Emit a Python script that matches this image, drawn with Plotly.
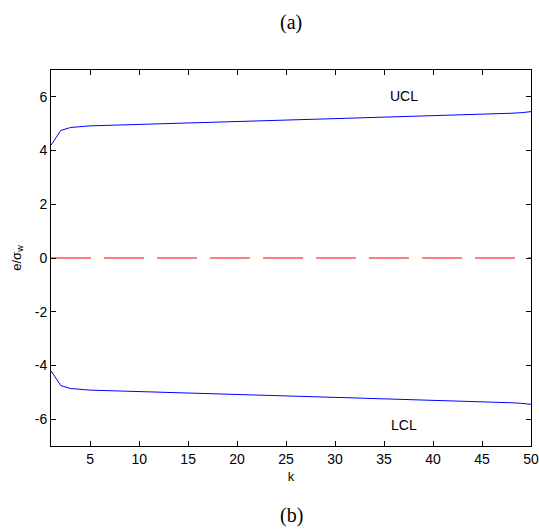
import plotly.graph_objects as go

k = list(range(1, 51))
ucl = [4.20, 4.75, 4.86, 4.90, 4.92, 4.93, 4.94, 4.95, 4.96, 4.98,
       4.99, 5.00, 5.01, 5.02, 5.03, 5.04, 5.05, 5.06, 5.07, 5.08,
       5.09, 5.10, 5.11, 5.12, 5.13, 5.14, 5.15, 5.16, 5.17, 5.19,
       5.20, 5.21, 5.22, 5.23, 5.24, 5.25, 5.26, 5.27, 5.28, 5.30,
       5.31, 5.32, 5.33, 5.34, 5.35, 5.37, 5.38, 5.39, 5.41, 5.45]
lcl = [-v for v in ucl]
center = [0.0] * 50

x_ticks = [5, 10, 15, 20, 25, 30, 35, 40, 45, 50]
y_ticks = [-6, -4, -2, 0, 2, 4, 6]
y_ticktext = ["-6", "-4", "-2", "0", "2", "4", "6"]

fig = go.Figure()
fig.add_trace(go.Scatter(x=k, y=ucl, mode="lines", line=dict(color="#0000ff", width=1)))
fig.add_trace(go.Scatter(x=k, y=lcl, mode="lines", line=dict(color="#0000ff", width=1)))
fig.add_trace(go.Scatter(x=k, y=center, mode="lines", line=dict(color="#ff0000", width=1.2, dash="40px,13px")))

fig.add_annotation(x=37.0, y=6.05, text="UCL", showarrow=False, font=dict(size=14, color="black", family="Liberation Sans"))
fig.add_annotation(x=37.0, y=-6.2, text="LCL", showarrow=False, font=dict(size=14, color="black", family="Liberation Sans"))
fig.add_annotation(xref="paper", yref="paper", x=0.5, y=1.0, yshift=48, yanchor="middle", text="(a)", showarrow=False,
                   font=dict(size=20, color="black", family="Liberation Serif"), xanchor="center")
fig.add_annotation(xref="paper", yref="paper", x=0.5, y=0.0, yshift=-69, yanchor="middle", text="(b)", showarrow=False,
                   font=dict(size=20, color="black", family="Liberation Serif"), xanchor="center")

axis_common = dict(showgrid=False, zeroline=False, showline=True, linecolor="black", linewidth=1,
                   mirror="ticks", ticks="inside", ticklen=5, tickcolor="black", automargin=False,
                   tickfont=dict(size=14, color="black", family="Liberation Sans"))

fig.update_layout(
    width=539, height=532, margin=dict(l=51, r=8, t=70, b=86),
    paper_bgcolor="white", plot_bgcolor="white", showlegend=False,
    xaxis=dict(range=[1, 50], tickvals=x_ticks, title=dict(text="k", standoff=6,
               font=dict(size=13, color="black", family="Liberation Sans")), **axis_common),
    yaxis=dict(range=[-7, 7], tickvals=y_ticks, ticktext=y_ticktext, title=dict(text="e/σ<sub>w</sub>", standoff=10,
               font=dict(size=13, color="black", family="Liberation Sans")), **axis_common),
)

fig.write_html("out.html")
